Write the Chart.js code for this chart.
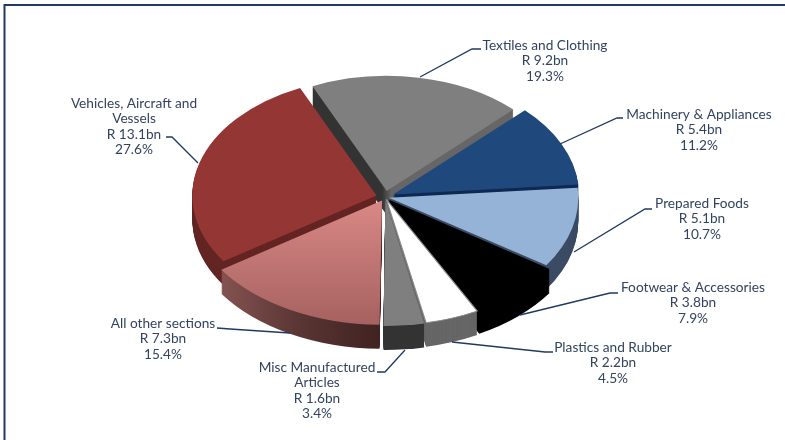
<!DOCTYPE html>
<html>
<head>
<meta charset="utf-8">
<title>Exports by section</title>
<script src="https://cdn.jsdelivr.net/npm/chart.js@4"></script>
<style>
  html, body { margin: 0; padding: 0; background: #fff; overflow: hidden; }
  canvas { display: block; }
</style>
</head>
<body>
<canvas id="grafico" width="785" height="440"></canvas>
<script>
// Export sections, clockwise from the top of the pie
const secoes = [
  ['Textiles and Clothing'],
  ['Machinery & Appliances'],
  ['Prepared Foods'],
  ['Footwear & Accessories'],
  ['Plastics and Rubber'],
  ['Misc Manufactured', 'Articles'],
  ['All other sections'],
  ['Vehicles, Aircraft and', 'Vessels']
];
const valoresBn = [9.2, 5.4, 5.1, 3.8, 2.2, 1.6, 7.3, 13.1];
const percentuais = [19.3, 11.2, 10.7, 7.9, 4.5, 3.4, 15.4, 27.6];

// Face and wall colours of each slice
const coresTopo = ['#7f7f7f', '#1f497d', '#95b3d7', '#000000', '#ffffff', '#7f7f7f', '#c27a78', '#943634'];
const coresLado = ['#333333', '#0f2a52', '#3a4b63', '#000000', '#666666', '#333333', '#5a3533', '#632523'];

// How far each slice is pulled out of the centre, in pixels
const afastamentos = [10, 9, 4, 5, 4, 4, 6, 9];

// Where each label block sits: centre x, first baseline y, then the leader line points
const rotulos = [
  { x: 545, y: 50, linha: [[420, 77], [472, 49], [481, 49]] },
  { x: 699, y: 119, linha: [[560, 144], [617, 118], [623, 118]] },
  { x: 702, y: 208, linha: [[574, 252], [645, 209], [652, 209]] },
  { x: 693, y: 292, linha: [[520, 315], [610, 293], [618, 293]] },
  { x: 613, y: 352, linha: [[452, 342], [545, 352], [553, 352]] },
  { x: 317, y: 372, linha: [[405, 350], [385, 372], [377, 372]] },
  { x: 163, y: 328, linha: [[290, 333], [230, 329], [217, 328]] },
  { x: 134, y: 108, linha: [[198, 163], [172, 137], [166, 137]] }
];

const centroX = 385;
const centroY = 197;
const achatamento = 0.642;
const perspectiva = 0.04;
const profundidade = 24;
const corTexto = '#33435f';
const corLinha = '#1f3a5f';

function desenhaFatia(ctx, arc, cor, borda) {
  const original = arc.options;
  arc.options = {
    backgroundColor: cor, borderColor: borda || 'transparent', borderWidth: borda ? 1.2 : 0,
    offset: original.offset, spacing: 0, borderAlign: 'center',
    borderRadius: 0, borderJoinStyle: 'round', circular: true
  };
  arc.draw(ctx);
  arc.options = original;
}

function corDoLado(ctx, arc, i) {
  const r = arc.outerRadius;
  if (i === 6) {
    const g = ctx.createLinearGradient(arc.x - r * 0.85, 0, arc.x, 0);
    g.addColorStop(0, '#855452');
    g.addColorStop(0.5, '#593533');
    g.addColorStop(1, '#3f2221');
    return g;
  }
  if (i === 0) {
    const g = ctx.createLinearGradient(arc.x - 5, 0, arc.x + 5, 0);
    g.addColorStop(0, '#333333');
    g.addColorStop(1, '#666666');
    return g;
  }
  if (i === 5) return faixaClara(ctx, arc, '#333333');
  return coresLado[i];
}

function corDoTopo(ctx, arc, i) {
  if (i === 6) {
    const g = ctx.createLinearGradient(0, arc.y, 0, arc.y + arc.outerRadius);
    g.addColorStop(0, '#d98885');
    g.addColorStop(1, '#a66260');
    return g;
  }
  if (i === 5) return faixaClara(ctx, arc, coresTopo[5]);
  return coresTopo[i];
}

// Pale seam on the left edge of the small grey slice
function faixaClara(ctx, arc, cor) {
  const g = ctx.createLinearGradient(arc.x - 6, 0, arc.x - 1, 0);
  g.addColorStop(0, '#b5b5b5');
  g.addColorStop(0.55, '#b5b5b5');
  g.addColorStop(0.6, cor);
  g.addColorStop(1, cor);
  return g;
}

// Extrudes the flattened pie: walls first, then the top face, back slices before front ones
const pizza3d = {
  id: 'pizza3d',
  beforeDatasetDraw(chart, args) {
    const ctx = chart.ctx;
    const arcs = args.meta.data;
    const meio = arc => Math.sin((arc.startAngle + arc.endAngle) / 2);
    const ordem = arcs.map((arc, i) => i).sort((a, b) => meio(arcs[a]) - meio(arcs[b]));
    ordem.forEach(i => {
      const arc = arcs[i];
      // front slices read slightly larger than back ones
      const escala = 1 + perspectiva * meio(arc);
      for (let d = profundidade; d >= 0; d--) {
        ctx.save();
        ctx.translate(centroX, centroY + d);
        ctx.scale(escala, achatamento * escala);
        ctx.translate(-arc.x, -arc.y);
        if (d === 0) {
          desenhaFatia(ctx, arc, corDoTopo(ctx, arc, i), i === 4 ? '#8c8c8c' : null);
        } else {
          desenhaFatia(ctx, arc, corDoLado(ctx, arc, i));
        }
        ctx.restore();
      }
    });
    return false;
  },
  afterDraw(chart) {
    const ctx = chart.ctx;
    ctx.save();
    // Frame along the top and left of the figure
    ctx.strokeStyle = corLinha;
    ctx.lineWidth = 2;
    ctx.beginPath();
    ctx.moveTo(4.5, 440);
    ctx.lineTo(4.5, 5);
    ctx.lineTo(785, 5);
    ctx.stroke();

    ctx.font = '13.7px Lato';
    ctx.textAlign = 'center';
    ctx.textBaseline = 'alphabetic';
    rotulos.forEach((r, i) => {
      ctx.strokeStyle = corLinha;
      ctx.lineWidth = 1.3;
      ctx.beginPath();
      r.linha.forEach((p, k) => k ? ctx.lineTo(p[0], p[1]) : ctx.moveTo(p[0], p[1]));
      ctx.stroke();
      const linhas = secoes[i].concat(['R ' + valoresBn[i].toFixed(1) + 'bn', percentuais[i].toFixed(1) + '%']);
      ctx.fillStyle = corTexto;
      linhas.forEach((t, k) => ctx.fillText(t, r.x, r.y + k * 15.3));
    });
    ctx.restore();
  }
};

const ctx = document.getElementById('grafico').getContext('2d');
const chart = new Chart(ctx, {
  type: 'pie',
  data: {
    labels: secoes.map(s => s.join(' ')),
    datasets: [{
      data: percentuais,
      backgroundColor: coresTopo,
      borderWidth: 0,
      // arc elements draw a quarter of this value
      offset: afastamentos.map(v => v * 4)
    }]
  },
  options: {
    responsive: false,
    animation: false,
    rotation: -24.5,
    radius: 186,
    plugins: { legend: { display: false }, tooltip: { enabled: false } }
  },
  plugins: [pizza3d]
});
</script>
</body>
</html>
